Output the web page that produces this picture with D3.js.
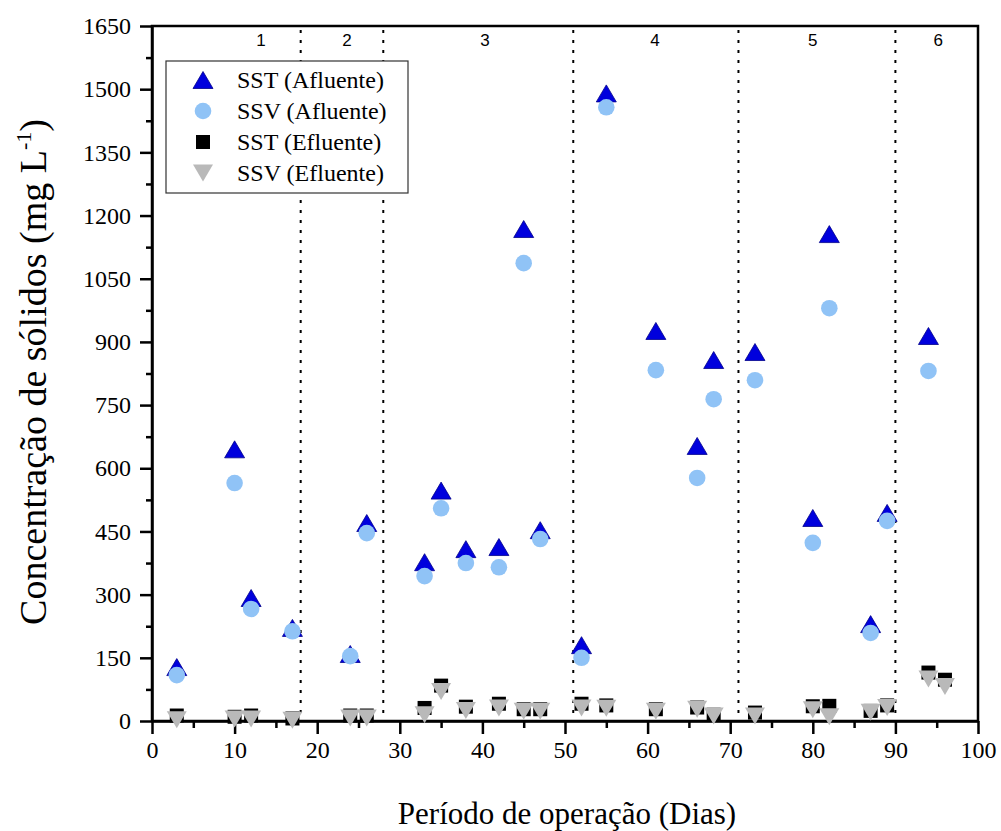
<!DOCTYPE html>
<html>
<head>
<meta charset="utf-8">
<script src="https://cdn.jsdelivr.net/npm/d3@7"></script>
<style>
  body { margin: 0; background: #fff; }
  svg text { font-family: "Liberation Serif", "Times New Roman", serif; }
</style>
</head>
<body>
<script>
var width = 1001, height = 831;
var margin = {top: 26, right: 23, bottom: 110, left: 152};
var serif = "'Liberation Serif', 'Times New Roman', serif";

// afluente (influent) sampling days
var diasAfl = [3, 10, 12, 17, 24, 26, 33, 35, 38, 42, 45, 47, 52, 55, 61, 66, 68, 73, 80, 82, 87, 89, 94];
var sstAfl = [128, 645, 292, 221, 159, 470, 377, 547, 408, 413, 1168, 453, 180, 1490, 926, 653, 857, 876, 482, 1156, 230, 494, 914];
var ssvAfl = [109, 565, 266, 213, 154, 446, 344, 505, 375, 365, 1087, 432, 150, 1457, 833, 577, 764, 809, 423, 980, 209, 475, 831];

// efluente (effluent) sampling days
var diasEfl = [3, 10, 12, 17, 24, 26, 33, 35, 38, 42, 45, 47, 52, 55, 61, 66, 68, 73, 80, 82, 87, 89, 94, 96];
var sstEfl = [13, 10, 13, 6, 13, 13, 31, 84, 34, 41, 28, 28, 41, 37, 28, 32, 15, 20, 35, 36, 24, 37, 115, 98];
var ssvEfl = [3, 5, 5, 2, 7, 7, 15, 70, 25, 31, 23, 23, 31, 30, 23, 28, 12, 12, 27, 10, 21, 32, 100, 82];

// phase limits (days) and labels
var limites = [18, 28, 51, 71, 90];
var fases = ["1", "2", "3", "4", "5", "6"];
var faseX = [13.2, 23.6, 40.3, 60.9, 80.0, 95.2];

var yTicks = d3.range(0, 1651, 150);
var xTicks = d3.range(0, 101, 10);

var svg = d3.select("body").append("svg")
    .attr("width", width)
    .attr("height", height);

var x = d3.scaleLinear().domain([0, 100]).range([margin.left, width - margin.right]);
var y = d3.scaleLinear().domain([0, 1650]).range([height - margin.bottom, margin.top]);

var triUp = "M0,-8.5L10,8.5L-10,8.5Z";
var triDown = "M0,8.5L10,-8.5L-10,-8.5Z";

// phase divider lines
svg.append("g")
    .selectAll("line")
    .data(limites)
    .enter()
    .append("line")
    .attr("x1", function (d) { return x(d); })
    .attr("x2", function (d) { return x(d); })
    .attr("y1", y(1650) + 4)
    .attr("y2", y(0))
    .attr("stroke", "#000")
    .attr("stroke-width", 2)
    .attr("stroke-dasharray", "3,7");

svg.append("g")
    .selectAll("text")
    .data(fases)
    .enter()
    .append("text")
    .attr("x", function (d, i) { return x(faseX[i]); })
    .attr("y", 46)
    .attr("text-anchor", "middle")
    .style("font-family", "'Liberation Sans', Arial, sans-serif")
    .style("font-size", "17px")
    .text(function (d) { return d; });

// axes
var xAxis = svg.append("g")
    .attr("transform", "translate(0," + y(0) + ")")
    .call(d3.axisBottom(x).tickValues(xTicks).tickSize(13).tickSizeOuter(0));
svg.append("g")
    .attr("transform", "translate(0," + y(0) + ")")
    .call(d3.axisBottom(x).tickValues(d3.range(5, 100, 10)).tickSize(7).tickFormat("").tickSizeOuter(0))
    .call(function (g) { g.select(".domain").remove(); });

var yAxis = svg.append("g")
    .attr("transform", "translate(" + x(0) + ",0)")
    .call(d3.axisLeft(y).tickValues(yTicks).tickSize(12).tickSizeOuter(0).tickFormat(d3.format("d")));
svg.append("g")
    .attr("transform", "translate(" + x(0) + ",0)")
    .call(d3.axisLeft(y).tickValues(d3.range(75, 1650, 150)).tickSize(6).tickFormat("").tickSizeOuter(0))
    .call(function (g) { g.select(".domain").remove(); });

svg.selectAll(".tick line").attr("stroke-width", 2.5);
svg.selectAll(".domain").attr("stroke-width", 2.5);

xAxis.selectAll("text")
    .style("font-family", serif)
    .style("font-size", "24px")
    .attr("dy", "0.9em")
    .attr("y", 15);
yAxis.selectAll("text")
    .style("font-family", serif)
    .style("font-size", "24px")
    .attr("x", -21);

// frame
svg.append("rect")
    .attr("x", x(0))
    .attr("y", y(1650))
    .attr("width", x(100) - x(0))
    .attr("height", y(0) - y(1650))
    .attr("fill", "none")
    .attr("stroke", "#000")
    .attr("stroke-width", 2.5);

// points
svg.append("g")
    .selectAll("path")
    .data(diasAfl)
    .enter()
    .append("path")
    .attr("d", triUp)
    .attr("transform", function (d, i) { return "translate(" + x(d) + "," + y(sstAfl[i]) + ")"; })
    .attr("fill", "#0000dd")
    .attr("stroke", "#00008a")
    .attr("stroke-width", 0.8);

svg.append("g")
    .selectAll("circle")
    .data(diasAfl)
    .enter()
    .append("circle")
    .attr("cx", function (d) { return x(d); })
    .attr("cy", function (d, i) { return y(ssvAfl[i]); })
    .attr("r", 8.3)
    .attr("fill", "#90c3f6");

svg.append("g")
    .selectAll("rect")
    .data(diasEfl)
    .enter()
    .append("rect")
    .attr("x", function (d) { return x(d) - 7; })
    .attr("y", function (d, i) { return y(sstEfl[i]) - 7; })
    .attr("width", 14)
    .attr("height", 14)
    .attr("fill", "#000");

svg.append("g")
    .selectAll("path")
    .data(diasEfl)
    .enter()
    .append("path")
    .attr("d", triDown)
    .attr("transform", function (d, i) { return "translate(" + x(d) + "," + y(ssvEfl[i]) + ")"; })
    .attr("fill", "#b9b9b9");

// legend
var legendItems = ["SST (Afluente)", "SSV (Afluente)", "SST (Efluente)", "SSV (Efluente)"];
var legend = svg.append("g").attr("transform", "translate(166,61)");
legend.append("rect")
    .attr("width", 242)
    .attr("height", 132)
    .attr("fill", "#fff")
    .attr("stroke", "#333")
    .attr("stroke-width", 1.2);

var rows = legend.selectAll("g.row")
    .data(legendItems)
    .enter()
    .append("g")
    .attr("class", "row")
    .attr("transform", function (d, i) { return "translate(37," + (19 + i * 31) + ")"; });

rows.each(function (d, i) {
    var g = d3.select(this);
    if (i === 0) {
        g.append("path").attr("d", triUp).attr("fill", "#0000dd").attr("stroke", "#00008a").attr("stroke-width", 0.8);
    } else if (i === 1) {
        g.append("circle").attr("r", 8.3).attr("fill", "#90c3f6");
    } else if (i === 2) {
        g.append("rect").attr("x", -7).attr("y", -7).attr("width", 14).attr("height", 14).attr("fill", "#000");
    } else {
        g.append("path").attr("d", triDown).attr("fill", "#b9b9b9");
    }
});

rows.append("text")
    .attr("x", 34)
    .attr("y", 8)
    .style("font-size", "24px")
    .text(function (d) { return d; });

// axis titles
svg.append("text")
    .attr("x", (x(0) + x(100)) / 2 + 2)
    .attr("y", 824)
    .attr("text-anchor", "middle")
    .style("font-size", "31px")
    .text("Período de operação (Dias)");

var yTitle = svg.append("text")
    .attr("transform", "translate(46," + 372 + ") rotate(-90)")
    .attr("text-anchor", "middle")
    .style("font-size", "38px");
yTitle.append("tspan").text("Concentração de sólidos (mg L");
yTitle.append("tspan").attr("dy", -15).style("font-size", "22px").text("-1");
yTitle.append("tspan").attr("dy", 15).text(")");
</script>
</body>
</html>
